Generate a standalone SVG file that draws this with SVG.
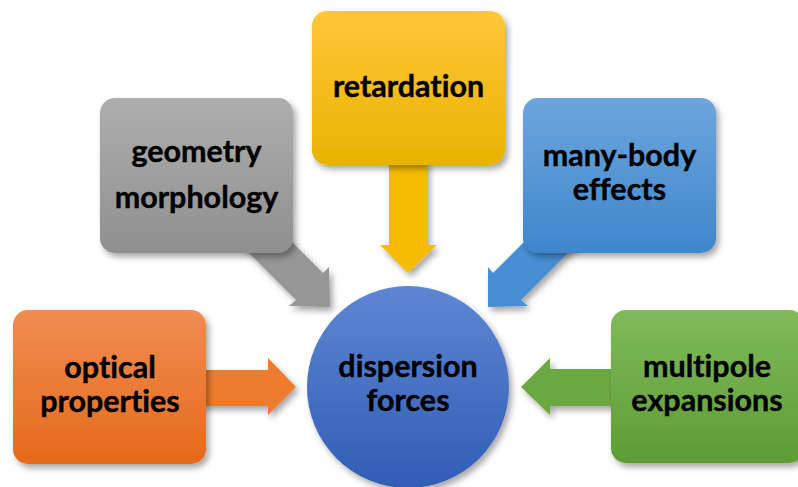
<svg xmlns="http://www.w3.org/2000/svg" width="798" height="487" viewBox="0 0 798 487">
  <defs>
    <filter id="shadow" x="-20%" y="-20%" width="140%" height="140%">
      <feDropShadow dx="3" dy="4" stdDeviation="3" flood-color="#000" flood-opacity="0.35"/>
    </filter>
    <linearGradient id="gOrange" x1="0" y1="0" x2="0" y2="1">
      <stop offset="0" stop-color="#F08D52"/>
      <stop offset="1" stop-color="#E5691B"/>
    </linearGradient>
    <linearGradient id="gYellow" x1="0" y1="0" x2="0" y2="1">
      <stop offset="0" stop-color="#FFC63A"/>
      <stop offset="1" stop-color="#E8B300"/>
    </linearGradient>
    <linearGradient id="gGray" x1="0" y1="0" x2="0" y2="1">
      <stop offset="0" stop-color="#AEAEAE"/>
      <stop offset="1" stop-color="#8F8F8F"/>
    </linearGradient>
    <linearGradient id="gBlue" x1="0" y1="0" x2="0" y2="1">
      <stop offset="0" stop-color="#6DA5DD"/>
      <stop offset="1" stop-color="#3F86CB"/>
    </linearGradient>
    <linearGradient id="gGreen" x1="0" y1="0" x2="0" y2="1">
      <stop offset="0" stop-color="#80BA5B"/>
      <stop offset="1" stop-color="#5E9C35"/>
    </linearGradient>
    <linearGradient id="gCircle" x1="0" y1="0" x2="0" y2="1">
      <stop offset="0" stop-color="#5E86D2"/>
      <stop offset="1" stop-color="#305DB6"/>
    </linearGradient>
  </defs>
  <style>
    .box { filter: url(#shadow); }
    .arrow { filter: url(#shadow); }
    text { font-family: Lato, "Open Sans", "Liberation Sans", sans-serif; font-weight: bold; font-size: 30.5px; fill: #000; stroke: #000; stroke-width: 0.4px; text-anchor: middle; font-variant-ligatures: none; }
  </style>

  <g id="connectors">
    <!-- optical properties -> center -->
    <polygon class="arrow" fill="#EE7B2E" points="200,370 268,370 268,358 296,387 268,415 268,406 200,406"/>
    <!-- multipole expansions -> center -->
    <polygon class="arrow" fill="#6CA843" points="620,369 550,369 550,358 521,387 550,415 550,406 620,406"/>
    <!-- retardation -> center -->
    <polygon class="arrow" fill="#F5BC00" points="389,160 427,160 427,245 437,245 408,273 380,245 389,245"/>
    <!-- geometry morphology -> center -->
    <polygon class="arrow" fill="#969696" points="250,200 323,273 329,267 330,307 289,306 296,300 223,227"/>
    <!-- many-body effects -> center -->
    <polygon class="arrow" fill="#4A8ED4" points="566,200 493,273 488,267 488,307 528,306 521,300 594,227"/>
  </g>

  <g id="node-gray">
    <rect class="box" x="100" y="98" width="193" height="155" rx="15" fill="url(#gGray)"/>
    <text x="196.5" y="162">geometry</text>
    <text x="196.5" y="208">morphology</text>
  </g>

  <g id="node-yellow">
    <rect class="box" x="312" y="11" width="193" height="154" rx="15" fill="url(#gYellow)"/>
    <text x="408.5" y="97">retardation</text>
  </g>

  <g id="node-blue">
    <rect class="box" x="523" y="98" width="193" height="155" rx="15" fill="url(#gBlue)"/>
    <text x="619.5" y="166">many-body</text>
    <text x="619.5" y="200">effects</text>
  </g>

  <g id="node-orange">
    <rect class="box" x="13" y="310" width="193" height="154" rx="15" fill="url(#gOrange)"/>
    <text x="110" y="378">optical</text>
    <text x="110" y="412">properties</text>
  </g>

  <g id="node-green">
    <rect class="box" x="611" y="310" width="193" height="153" rx="15" fill="url(#gGreen)"/>
    <text x="707" y="377">multipole</text>
    <text x="707" y="411">expansions</text>
  </g>

  <g id="node-center">
    <circle class="box" cx="408" cy="387" r="101" fill="url(#gCircle)"/>
    <text x="408" y="377">dispersion</text>
    <text x="408" y="411">forces</text>
  </g>
</svg>
